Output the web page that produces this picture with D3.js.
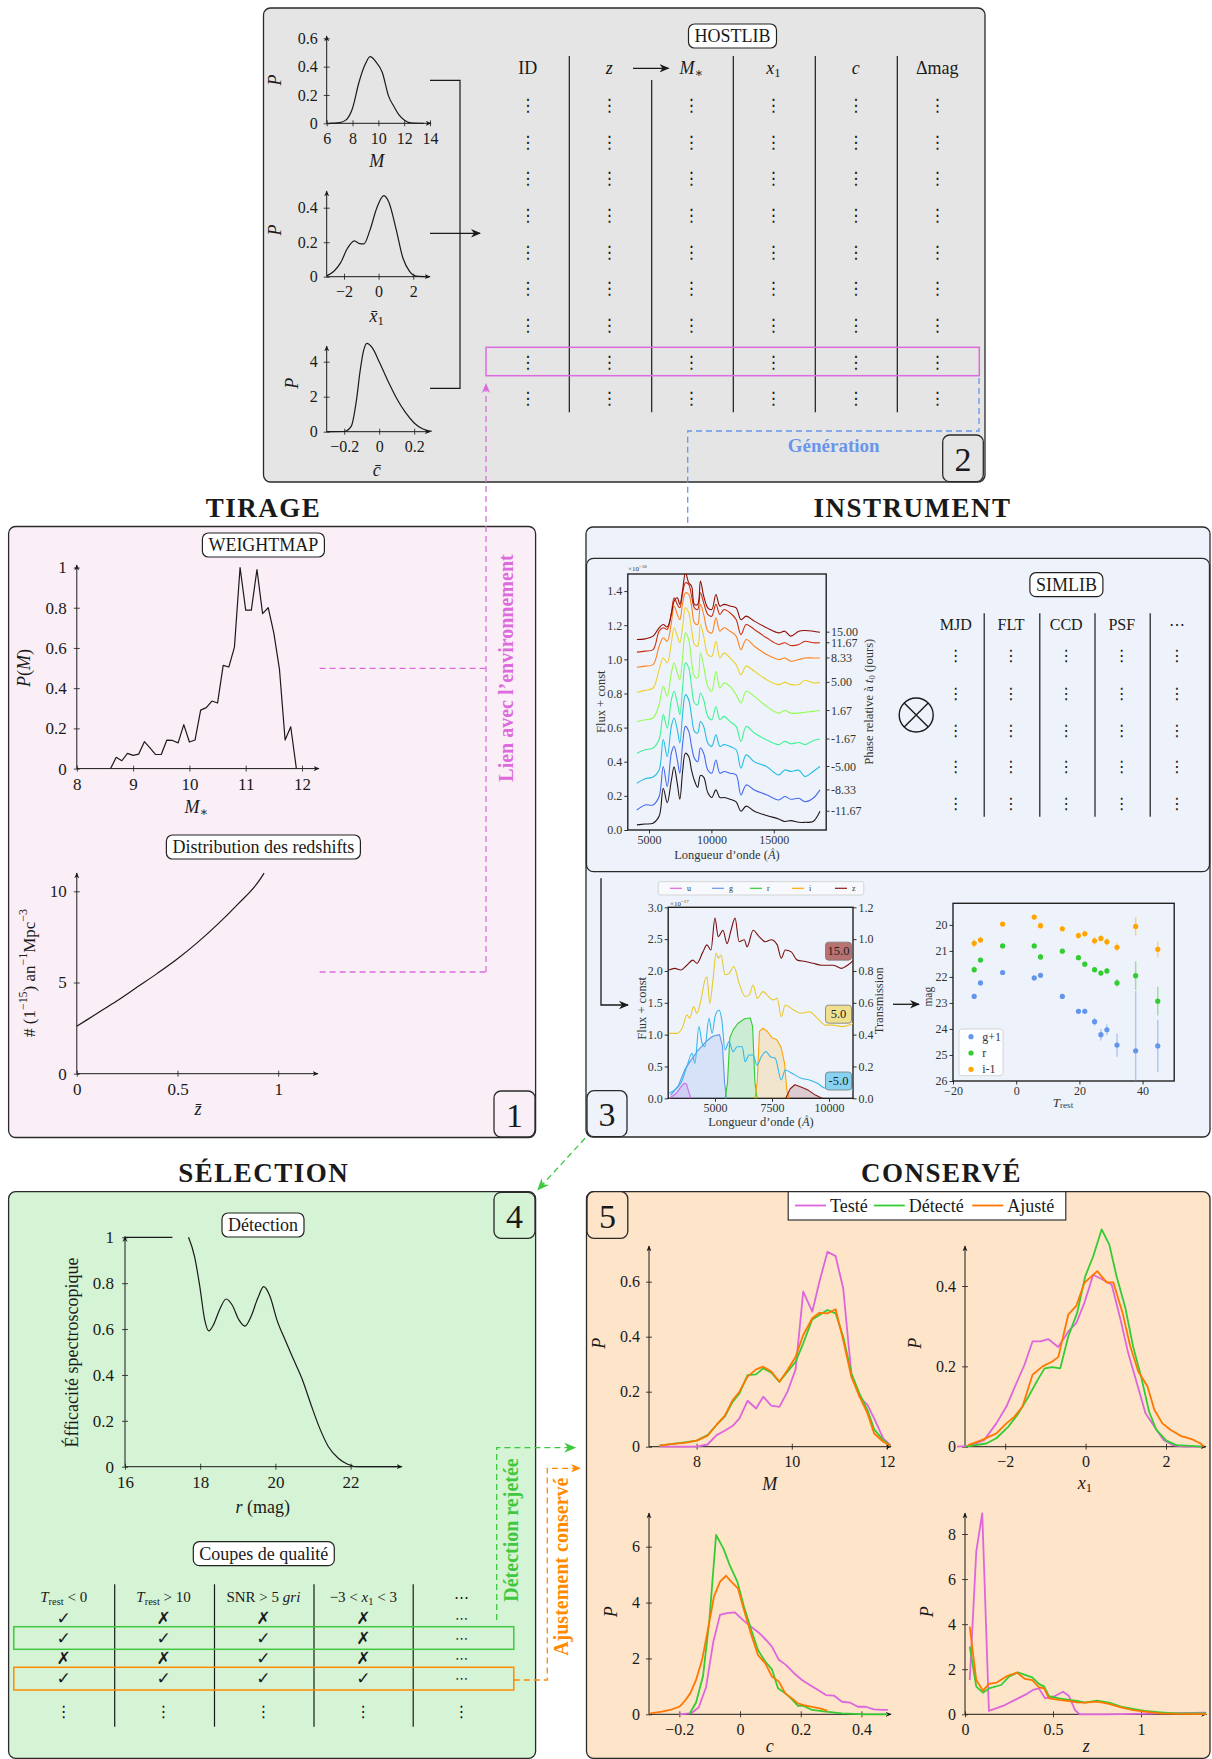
<!DOCTYPE html>
<html><head><meta charset="utf-8">
<script src="https://cdn.jsdelivr.net/npm/d3@7"></script>
<style>html,body{margin:0;padding:0;background:#fff;}</style>
</head><body>
<script>
// ================= DATA =================
// HOSTLIB priors
const hostM   = [6.2,7,7.5,8,8.5,9,9.36,9.8,10.3,10.8,11.2,11.6,12,12.5,13.5];
const hostMP  = [0,0.005,0.024,0.106,0.29,0.42,0.47,0.435,0.36,0.19,0.12,0.06,0.024,0.004,0];
const hostX1  = [-3,-2.6,-2.2,-1.8,-1.4,-1.1,-0.85,-0.5,-0.1,0.3,0.6,1.0,1.4,1.8,2.2,2.9];
const hostX1P = [0.005,0.03,0.08,0.165,0.208,0.192,0.19,0.27,0.4,0.47,0.43,0.28,0.11,0.03,0.003,0];
const hostC   = [-0.3,-0.2,-0.16,-0.13,-0.11,-0.09,-0.07,-0.04,0,0.05,0.1,0.15,0.2,0.25,0.3];
const hostCP  = [0,0.01,0.3,1.8,3.4,4.6,5.05,4.8,4.0,2.9,1.9,1.1,0.5,0.15,0.02];
const hostCols = [[["ID",""]],[["z","i"]],[["M","i"],["∗","sub"]],[["x","i"],["1","sub"]],[["c","i"]],[["Δmag",""]]];

// WEIGHTMAP
const wmM = [8.6,8.7,8.8,8.9,9.0,9.1,9.2,9.3,9.4,9.5,9.6,9.7,9.8,9.9,10.0,10.1,10.2,10.3,10.4,10.5,10.6,10.7,10.8,10.9,11.0,11.1,11.2,11.3,11.4,11.5,11.6,11.7,11.8,11.9];
const wmP = [0,0.056,0.039,0.076,0.066,0.072,0.134,0.103,0.07,0.07,0.142,0.14,0.128,0.219,0.132,0.142,0.291,0.303,0.336,0.326,0.513,0.505,0.604,1.0,0.788,0.788,0.99,0.771,0.8,0.674,0.493,0.142,0.208,0];

// Redshift rate
const zRateZ = [0,0.1,0.2,0.3,0.4,0.5,0.6,0.7,0.8,0.9,0.93];
const zRateV = [2.6,3.3,4.0,4.75,5.5,6.3,7.2,8.2,9.3,10.5,11.0];

// Spectral time series (Flux + const)
const specLam = [4030,4680,5325,5810,6140,6460,6790,7010,7270,7470,7700,7920,8180,8410,8640,8900,9120,9380,9710,10030,10360,10680,11010,11490,11980,12370,12790,13440,14420,15390,15880,16360,17010,17500,18150,18700];
const spec_m1167 = [0.03,0.035,0.04,0.08,0.245,0.16,0.29,0.37,0.27,0.18,0.35,0.45,0.43,0.35,0.29,0.25,0.32,0.31,0.22,0.19,0.235,0.19,0.19,0.18,0.165,0.11,0.14,0.11,0.085,0.065,0.05,0.055,0.045,0.045,0.05,0.11];
const spec_m833  = [0.117,0.147,0.147,0.196,0.372,0.255,0.45,0.49,0.41,0.333,0.51,0.607,0.578,0.49,0.42,0.40,0.48,0.45,0.352,0.333,0.41,0.333,0.343,0.333,0.323,0.206,0.264,0.235,0.206,0.176,0.196,0.18,0.186,0.166,0.186,0.235];
const spec_m500  = [0.274,0.30,0.31,0.352,0.53,0.43,0.607,0.656,0.587,0.51,0.685,0.793,0.763,0.666,0.578,0.568,0.636,0.607,0.51,0.49,0.558,0.49,0.5,0.49,0.47,0.362,0.44,0.40,0.372,0.323,0.352,0.343,0.35,0.313,0.343,0.372];
const spec_m167  = [0.45,0.47,0.48,0.53,0.676,0.597,0.763,0.813,0.744,0.676,0.842,0.979,0.95,0.842,0.744,0.734,0.803,0.763,0.666,0.646,0.724,0.646,0.666,0.636,0.607,0.519,0.607,0.568,0.528,0.5,0.519,0.505,0.513,0.5,0.523,0.533];
const spec_p167  = [0.636,0.646,0.656,0.734,0.842,0.783,0.92,0.979,0.92,0.881,1.018,1.155,1.116,0.989,0.9,0.89,1.038,0.96,0.842,0.813,0.93,0.832,0.862,0.842,0.793,0.744,0.813,0.783,0.724,0.685,0.70,0.685,0.685,0.69,0.695,0.70];
const spec_p500  = [0.807,0.818,0.832,0.94,1.008,0.979,1.097,1.185,1.136,1.097,1.194,1.302,1.273,1.175,1.087,1.077,1.204,1.136,1.028,1.018,1.106,1.008,1.038,1.008,0.969,0.91,0.96,0.93,0.881,0.852,0.865,0.852,0.852,0.877,0.862,0.865];
const spec_p833  = [0.954,0.96,0.969,1.077,1.126,1.106,1.214,1.312,1.263,1.233,1.331,1.39,1.38,1.312,1.214,1.204,1.322,1.263,1.165,1.155,1.243,1.165,1.185,1.165,1.136,1.057,1.116,1.077,1.028,0.999,1.008,0.989,0.999,1.008,1.008,1.008];
const spec_p1167 = [1.042,1.048,1.057,1.165,1.185,1.175,1.273,1.361,1.322,1.302,1.39,1.449,1.439,1.371,1.302,1.292,1.39,1.331,1.263,1.253,1.322,1.263,1.292,1.273,1.233,1.145,1.204,1.175,1.126,1.087,1.097,1.081,1.087,1.106,1.097,1.097];
const spec_p1500 = [1.116,1.12,1.136,1.185,1.204,1.19,1.263,1.341,1.361,1.322,1.41,1.508,1.449,1.429,1.322,1.322,1.459,1.371,1.302,1.292,1.38,1.312,1.322,1.312,1.302,1.233,1.253,1.224,1.185,1.155,1.165,1.136,1.165,1.169,1.165,1.159];
const specPhases = ["-11.67","-8.33","-5.00","-1.67","1.67","5.00","8.33","11.67","15.00"];

// SIMLIB
const simCols = ["MJD","FLT","CCD","PSF","⋯"];

// Filters (transmission)
const filtNames = ["u","g","r","i","z"];
const fU_l = [3000,3300,3500,3650,3750,3850,3950],            fU_t = [0,0.03,0.07,0.094,0.09,0.04,0];
const fG_l = [3050,3400,3680,3950,4250,4600,4900,5200,5330,5420,5500], fG_t = [0.02,0.08,0.18,0.24,0.3,0.355,0.39,0.40,0.33,0.1,0];
const fR_l = [5450,5550,5650,5800,6000,6300,6550,6650,6750,6850], fR_t = [0,0.1,0.38,0.43,0.47,0.5,0.505,0.45,0.1,0];
const fI_l = [6750,6850,6950,7100,7300,7500,7700,7900,8050,8150,8250], fI_t = [0,0.1,0.42,0.44,0.42,0.38,0.37,0.32,0.22,0.05,0];
const fZ_l = [8100,8300,8500,8800,9100,9400,9700],            fZ_t = [0,0.06,0.085,0.07,0.05,0.02,0];
// Spectra at 3 phases
const sM5_l = [2975,3503,3768,3996,4120,4296,4437,4560,4736,4877,5000,5176,5300,5440,5616,5792,5968,6197,6320,6496,6673,6849,7025,7236,7430,7641,7905,8081,8433,8785,9137,9490,9842,10106,10546,10898,11074];
const sM5_f = [0.08,0.236,0.5,0.707,0.55,1.126,0.864,0.81,1.256,1.02,1.28,1.387,1.23,0.76,0.89,0.733,0.81,0.81,0.576,0.68,0.68,0.52,0.65,0.733,0.654,0.63,0.288,0.445,0.38,0.314,0.288,0.236,0.157,0.21,0.18,0.157,0.13];
const sP5_l = [2975,3327,3591,3768,3891,4067,4208,4384,4560,4648,4771,4912,5053,5141,5264,5440,5616,5827,6056,6320,6496,6673,6849,7113,7289,7553,7729,7905,8081,8433,8785,9137,9490,9842,10194,10546,10898,11074];
const sP5_f = [1.02,1.02,1.126,1.31,1.26,1.44,1.335,1.54,1.86,1.91,1.49,1.86,2.28,2.2,2.25,1.94,1.96,2.07,1.81,1.6,1.62,1.78,1.57,1.675,1.62,1.545,1.57,1.28,1.466,1.39,1.335,1.36,1.256,1.15,1.15,1.126,1.15,1.18];
const sP15_l = [2975,3240,3503,3768,4032,4208,4472,4648,4824,5000,5141,5352,5528,5704,5880,6056,6285,6408,6673,6937,7201,7465,7729,7905,8081,8345,8609,8961,9313,9666,9930,10194,10546,10810,11074];
const sP15_f = [2.015,2.04,2.015,2.09,2.17,2.12,2.30,2.41,2.33,2.83,2.54,2.64,2.43,2.64,2.83,2.46,2.49,2.38,2.64,2.54,2.46,2.49,2.41,2.20,2.33,2.30,2.17,2.15,2.12,2.09,2.09,2.09,2.04,2.09,2.17];
const phaseBoxLabels = ["15.0","5.0","-5.0"];

// Light curve
const lcT    = [-13.3,-11.3,-4.3,5.7,7.7,14.6,19.7,21.7,24.8,26.8,28.7,31.9,37.8,44.8];
const lcG    = [22.75,22.23,21.83,22.04,21.94,22.75,23.32,23.32,23.72,24.22,24.03,24.62,24.84,24.65];
const lcGerr = [0.1,0.08,0.07,0.07,0.08,0.1,0.1,0.1,0.15,0.22,0.2,0.45,2.3,1.0];
const lcR    = [21.72,21.35,20.81,20.81,21.23,21.01,21.26,21.51,21.72,21.85,21.77,22.23,21.95,22.93];
const lcRerr = [0.12,0.1,0.06,0.07,0.12,0.07,0.08,0.1,0.1,0.1,0.1,0.15,0.55,0.55];
const lcI    = [20.71,20.58,19.97,19.70,20.03,20.15,20.41,20.34,20.61,20.52,20.65,20.86,20.06,20.94];
const lcIerr = [0.15,0.12,0.07,0.08,0.12,0.08,0.12,0.12,0.14,0.12,0.14,0.15,0.35,0.3];
const lcNames = ["g+1","r","i-1"];

// Detection efficiency
const effFlatR = [16,17.26], effFlat = [1,1];
const effR = [17.69,17.85,17.99,18.12,18.23,18.35,18.53,18.69,18.85,19.03,19.19,19.35,19.53,19.69,19.86,20.04,20.26,20.49,20.72,20.95,21.18,21.41,21.68,21.91,22.19,23.3];
const eff  = [1.0,0.916,0.785,0.64,0.592,0.618,0.69,0.731,0.705,0.64,0.613,0.654,0.734,0.785,0.741,0.64,0.552,0.465,0.378,0.269,0.167,0.087,0.036,0.012,0,0];

// Quality cuts table
const cutRows = [["✓","✗","✗","✗","⋯"],["✓","✓","✓","✗","⋯"],["✗","✗","✓","✗","⋯"],["✓","✓","✓","✓","⋯"]];

// Conservé distributions
const legNames = ["Testé","Détecté","Ajusté"];
const mBins = [7.22,7.5,7.75,8.0,8.23,8.42,8.59,8.76,8.90,9.07,9.25,9.40,9.57,9.74,9.91,10.08,10.24,10.43,10.58,10.75,10.92,11.08,11.25,11.42,11.59,11.73,11.92,12.07];
const testeM = [0,0,0,0,0.008,0.042,0.058,0.076,0.103,0.167,0.139,0.182,0.149,0.145,0.2,0.281,0.564,0.491,0.6,0.709,0.693,0.576,0.267,0.182,0.152,0.103,0.03,0.006];
const detM   = [0.004,0.01,0.016,0.022,0.042,0.079,0.109,0.164,0.194,0.26,0.263,0.285,0.269,0.236,0.273,0.309,0.376,0.463,0.479,0.497,0.485,0.4,0.267,0.194,0.133,0.063,0.024,0.004];
const ajuM   = [0.004,0.01,0.014,0.022,0.04,0.08,0.112,0.17,0.2,0.255,0.281,0.291,0.273,0.236,0.279,0.327,0.406,0.467,0.487,0.485,0.5,0.388,0.255,0.184,0.121,0.048,0.018,0.004];
const testeX1x = [-3.2,-2.87,-2.52,-2.22,-1.97,-1.72,-1.52,-1.32,-1.12,-0.93,-0.68,-0.43,-0.23,-0.03,0.19,0.42,0.65,0.87,1.06,1.31,1.49,1.71,1.94,2.16,2.46,2.9];
const testeX1  = [0,0.002,0.017,0.058,0.1,0.158,0.204,0.262,0.262,0.268,0.248,0.287,0.308,0.358,0.428,0.416,0.403,0.316,0.233,0.146,0.083,0.05,0.017,0.004,0,0];
const detX1x = [-3.0,-2.47,-2.22,-1.92,-1.67,-1.42,-1.17,-1.02,-0.83,-0.63,-0.43,-0.21,-0.01,0.19,0.40,0.59,0.77,0.99,1.18,1.38,1.58,1.76,2.01,2.26,2.9];
const detX1  = [0,0.008,0.021,0.05,0.083,0.125,0.17,0.195,0.198,0.195,0.275,0.333,0.424,0.474,0.541,0.503,0.424,0.345,0.25,0.175,0.087,0.042,0.015,0.004,0];
const ajuX1x = [-2.92,-2.57,-2.22,-1.97,-1.77,-1.57,-1.32,-1.07,-0.83,-0.68,-0.43,-0.23,-0.03,0.29,0.52,0.69,0.92,1.11,1.31,1.54,1.71,1.91,2.11,2.36,2.66,2.86,2.94];
const ajuX1  = [0.004,0.017,0.033,0.058,0.075,0.1,0.179,0.2,0.212,0.223,0.329,0.351,0.408,0.437,0.409,0.409,0.333,0.25,0.187,0.15,0.092,0.058,0.042,0.027,0.018,0.008,0];
const testeCx = [-0.2,-0.16,-0.136,-0.112,-0.088,-0.066,-0.043,-0.017,0.009,0.036,0.062,0.086,0.105,0.128,0.151,0.178,0.204,0.23,0.257,0.283,0.309,0.336,0.362,0.388,0.414,0.441,0.467,0.487];
const testeC  = [0,0.04,0.25,0.97,2.6,3.56,3.62,3.65,3.38,3.14,2.92,2.66,2.42,1.95,1.77,1.47,1.23,1.05,0.87,0.69,0.67,0.45,0.42,0.27,0.27,0.18,0.155,0.155];
const detCx = [-0.167,-0.145,-0.122,-0.101,-0.079,-0.055,-0.033,-0.009,0.013,0.037,0.059,0.083,0.105,0.125,0.149,0.168,0.191,0.21,0.237,0.283,0.336,0.414,0.487];
const detC  = [0,0.42,1.37,3.38,6.42,5.94,5.31,4.75,3.85,3.02,2.3,1.89,1.61,0.93,0.75,0.57,0.3,0.3,0.155,0.095,0.036,0,0];
const ajuCx = [-0.296,-0.257,-0.224,-0.2,-0.184,-0.164,-0.145,-0.125,-0.105,-0.086,-0.066,-0.046,-0.029,-0.007,0.016,0.039,0.059,0.083,0.105,0.128,0.149,0.171,0.191,0.21,0.237,0.263,0.287];
const ajuC  = [0.036,0.095,0.18,0.27,0.45,0.75,1.23,1.95,3.08,4.21,4.75,4.96,4.75,4.51,3.62,2.78,2.12,1.83,1.35,1.17,0.75,0.57,0.39,0.33,0.27,0.21,0.13];
const testeZx = [0.027,0.064,0.098,0.136,0.18,0.227,0.284,0.341,0.386,0.42,0.455,0.511,0.557,0.591,0.625,0.652,0.8,1.37];
const testeZ  = [1.52,7.22,8.92,0.15,0.27,0.41,0.64,0.86,1.08,1.15,0.71,0.81,1.0,0.81,0.19,0,0,0.07];
const detZx = [0.027,0.064,0.102,0.136,0.205,0.25,0.3,0.341,0.382,0.42,0.45,0.477,0.534,0.591,0.636,0.682,0.75,0.818,0.886,0.955,1.02,1.11,1.2,1.37];
const detZ  = [3.0,1.23,0.96,1.15,1.3,1.67,1.86,1.75,1.64,1.35,1.23,0.81,0.71,0.64,0.59,0.52,0.61,0.52,0.34,0.24,0.15,0.09,0.04,0.04];
const ajuZx = [0.027,0.064,0.102,0.136,0.18,0.239,0.295,0.341,0.382,0.42,0.45,0.477,0.534,0.591,0.636,0.682,0.75,0.818,0.886,0.955,1.02,1.11,1.2,1.37];
const ajuZ  = [3.89,1.52,1.05,1.35,1.41,1.7,1.85,1.57,1.52,1.2,1.15,0.71,0.64,0.59,0.53,0.52,0.56,0.46,0.31,0.19,0.12,0.04,0.015,0.01];

// ================= DRAWING =================
const svg = d3.select("body").append("svg").attr("width",1212).attr("height",1759).style("display","block");
const SERIF = '"Liberation Serif","DejaVu Serif",serif';
const SYM = '"DejaVu Sans",sans-serif';
const INK = "#1a1a1a";
const MAG = "#de6bde", BLUE = "#6a95ea", GRN = "#3fc83f", ORG = "#ff8a00";
const C_T = "#dd66dd", C_D = "#33cc33", C_A = "#ff7700";
const defs = svg.append("defs");
function mk(id,color,size){
  defs.append("marker").attr("id",id).attr("viewBox","0 0 10 10").attr("refX",9).attr("refY",5)
    .attr("markerWidth",size).attr("markerHeight",size).attr("markerUnits","userSpaceOnUse").attr("orient","auto")
    .append("path").attr("d","M0,0.8 L10,5 L0,9.2 L3,5 Z").attr("fill",color);
}
mk("aK",INK,10); mk("aKs",INK,6); mk("aM",MAG,10); mk("aB",BLUE,10); mk("aG",GRN,12); mk("aO",ORG,10);

const F = d => (d<0?"\u2212":"") + String(Math.abs(d));
function T(x,y,s,o={}){
  const t = svg.append("text").attr("x",x).attr("y",y).text(s)
    .attr("font-family",o.ff||SERIF).attr("font-size",o.fs||16).attr("fill",o.fill||INK)
    .attr("text-anchor",o.anchor||"middle").attr("dominant-baseline","central");
  if(o.bold) t.attr("font-weight","bold");
  if(o.italic) t.attr("font-style","italic");
  if(o.ls) t.attr("letter-spacing",o.ls);
  if(o.rot) t.attr("transform",`rotate(${o.rot},${x},${y})`);
  return t;
}
function rich(x,y,parts,o={}){
  const fs=o.fs||16;
  const t = svg.append("text").attr("x",x).attr("y",y).attr("font-family",o.ff||SERIF).attr("font-size",fs)
    .attr("fill",o.fill||INK).attr("text-anchor",o.anchor||"middle").attr("dominant-baseline","central");
  let shift=0;
  parts.forEach(p=>{
    const s=p[0], st=(p[1]||"").split(" ");
    const ts=t.append("tspan").text(s);
    let target=0;
    if(st.includes("sub")) target=fs*0.28;
    if(st.includes("sup")) target=-fs*0.38;
    if(target-shift!==0) ts.attr("dy",target-shift);
    shift=target;
    if(st.includes("sub")||st.includes("sup")) ts.attr("font-size",fs*0.7);
    if(st.includes("i")) ts.attr("font-style","italic");
  });
  if(o.bold) t.attr("font-weight","bold");
  if(o.rot) t.attr("transform",`rotate(${o.rot},${x},${y})`);
  return t;
}
function panel(x,y,w,h,fill,rx=7){
  return svg.append("rect").attr("x",x).attr("y",y).attr("width",w).attr("height",h).attr("rx",rx)
    .attr("fill",fill).attr("stroke","#2a2a2a").attr("stroke-width",1.3);
}
function nbox(x,y,w,h,n,fill){ panel(x,y,w,h,fill,7); T(x+w/2,y+h/2+1,n,{fs:34}); }
function lbox(cx,cy,s,fs=18){
  const g=svg.append("g");
  const t=g.append("text").attr("x",cx).attr("y",cy).attr("text-anchor","middle").attr("dominant-baseline","central")
    .attr("font-family",SERIF).attr("font-size",fs).attr("fill",INK).text(s);
  const w=t.node().getComputedTextLength();
  g.insert("rect","text").attr("x",cx-w/2-6).attr("y",cy-12).attr("width",w+12).attr("height",24).attr("rx",6)
    .attr("fill","#fff").attr("stroke","#222").attr("stroke-width",1.2);
}
function pgf(x,y,o){
  const g=svg.append("g");
  const bx=x.range()[0], by=y.range()[0], fs=o.fs||16;
  const ax=g.append("g").attr("transform",`translate(0,${by})`)
    .call(d3.axisBottom(x).tickValues(o.xt).tickFormat(F).tickSizeInner(3).tickSizeOuter(0).tickPadding(o.xpad||6));
  ax.select(".domain").remove();
  ax.selectAll(".tick line").attr("y1",-3).attr("stroke-width",0.8);
  ax.attr("font-family",SERIF).attr("font-size",fs).attr("color",INK);
  const ay=g.append("g").attr("transform",`translate(${bx},0)`)
    .call(d3.axisLeft(y).tickValues(o.yt).tickFormat(F).tickSizeInner(3).tickSizeOuter(0).tickPadding(o.ypad||6));
  ay.select(".domain").remove();
  ay.selectAll(".tick line").attr("x1",3).attr("stroke-width",0.8);
  ay.attr("font-family",SERIF).attr("font-size",fs).attr("color",INK);
  g.append("line").attr("x1",bx).attr("y1",by).attr("x2",o.xEnd).attr("y2",by).attr("stroke",INK).attr("stroke-width",1).attr("marker-end","url(#aKs)");
  g.append("line").attr("x1",bx).attr("y1",by).attr("x2",bx).attr("y2",o.yEnd).attr("stroke",INK).attr("stroke-width",1).attr("marker-end","url(#aKs)");
}
function mpl(x,y,o){
  const g=svg.append("g");
  const xr=x.range(), yr=y.range();
  const x0=Math.min(...xr), x1=Math.max(...xr), y0=Math.max(...yr), y1=Math.min(...yr), fs=o.fs||12;
  const ax=g.append("g").attr("transform",`translate(0,${y0})`)
    .call(d3.axisBottom(x).tickValues(o.xt).tickFormat(o.xf).tickSizeInner(3.5).tickSizeOuter(0).tickPadding(2));
  ax.select(".domain").remove();
  ax.attr("font-family",SERIF).attr("font-size",fs).attr("color","#333");
  const ay=g.append("g").attr("transform",`translate(${x0},0)`)
    .call(d3.axisLeft(y).tickValues(o.yt).tickFormat(o.yf).tickSizeInner(3.5).tickSizeOuter(0).tickPadding(2));
  ay.select(".domain").remove();
  ay.attr("font-family",SERIF).attr("font-size",fs).attr("color","#333");
  if(o.y2){
    const ar=g.append("g").attr("transform",`translate(${x1},0)`)
      .call(d3.axisRight(o.y2).tickValues(o.y2t).tickFormat(o.yf).tickSizeInner(3.5).tickSizeOuter(0).tickPadding(2));
    ar.select(".domain").remove();
    ar.attr("font-family",SERIF).attr("font-size",fs).attr("color","#333");
  }
  g.append("rect").attr("x",x0).attr("y",y1).attr("width",x1-x0).attr("height",y0-y1).attr("fill","none").attr("stroke","#222").attr("stroke-width",1.4);
  if(o.clip){ defs.append("clipPath").attr("id",o.clip).append("rect").attr("x",x0).attr("y",y1).attr("width",x1-x0).attr("height",y0-y1); }
}
function curve(x,y,xs,ys,o={}){
  const pts=xs.map((v,i)=>[v,ys[i]]);
  const p=svg.append("path").datum(pts).attr("d",d3.line().x(d=>x(d[0])).y(d=>y(d[1])).curve(o.curve||d3.curveLinear))
    .attr("fill","none").attr("stroke",o.color||INK).attr("stroke-width",o.w||1.2).attr("stroke-linejoin","round");
  if(o.clip) p.attr("clip-path",`url(#${o.clip})`);
  return p;
}
function area(x,y,xs,ys,color){
  const pts=xs.map((v,i)=>[v,ys[i]]);
  svg.append("path").datum(pts).attr("d",d3.area().x(d=>x(d[0])).y0(y(0)).y1(d=>y(d[1])))
    .attr("fill",color).attr("fill-opacity",0.18).attr("stroke","none");
  curve(x,y,xs,ys,{color:color,w:1.1});
}
function dashed(d,color,marker){
  const p=svg.append("path").attr("d",d).attr("fill","none").attr("stroke",color).attr("stroke-width",1.3).attr("stroke-dasharray","6,4");
  if(marker) p.attr("marker-end",`url(#${marker})`);
}
function vdots(x,y,fs=17){ T(x,y,"⋮",{ff:SYM,fs:fs}); }

// ---------------- TOP BOX (HOSTLIB) ----------------
panel(263.5,8,721.5,474,"#e5e5e5");
// prior M
const xP1=d3.scaleLinear().domain([6,14]).range([326.7,430]);
const yP1=d3.scaleLinear().domain([0,0.6]).range([123.3,38.3]);
pgf(xP1,yP1,{xt:[6,8,10,12,14],yt:[0,0.2,0.4,0.6],xEnd:431,yEnd:36,fs:16});
curve(xP1,yP1,hostM,hostMP,{curve:d3.curveMonotoneX});
rich(275,80,[["P","i"]],{fs:18,rot:-90});
rich(376.7,161,[["M","i"]],{fs:18});
// prior x1
const xP2=d3.scaleLinear().domain([-3,3]).range([326.7,430.5]);
const yP2=d3.scaleLinear().domain([0,0.4]).range([276.7,207.7]);
pgf(xP2,yP2,{xt:[-2,0,2],yt:[0,0.2,0.4],xEnd:430,yEnd:191,fs:16});
curve(xP2,yP2,hostX1,hostX1P,{curve:d3.curveMonotoneX});
rich(275,230,[["P","i"]],{fs:18,rot:-90});
rich(376.7,316,[["x̄","i"],["1","sub"]],{fs:18});
// prior c
const xP3=d3.scaleLinear().domain([-0.3,0.3]).range([326.7,431.7]);
const yP3=d3.scaleLinear().domain([0,4]).range([431.7,361.7]);
pgf(xP3,yP3,{xt:[-0.2,0,0.2],yt:[0,2,4],xEnd:430,yEnd:346,fs:16});
curve(xP3,yP3,hostC,hostCP,{curve:d3.curveMonotoneX});
rich(291.7,383.3,[["P","i"]],{fs:18,rot:-90});
rich(376.7,470,[["c̄","i"]],{fs:18});
// connectors
svg.append("path").attr("d","M430,80.3 H460 V388.3 H430").attr("fill","none").attr("stroke",INK).attr("stroke-width",1.2);
svg.append("line").attr("x1",430).attr("y1",233.3).attr("x2",480).attr("y2",233.3).attr("stroke",INK).attr("stroke-width",1.2).attr("marker-end","url(#aK)");
// HOSTLIB table
lbox(732.5,36,"HOSTLIB");
const hostX=[527.7,609.3,691.3,773.3,855.7,937.3];
hostCols.forEach((parts,i)=>rich(hostX[i],68.3,parts,{fs:18}));
svg.append("line").attr("x1",633).attr("y1",68.3).attr("x2",668.5).attr("y2",68.3).attr("stroke",INK).attr("stroke-width",1.2).attr("marker-end","url(#aK)");
[569.3,651.7,733.3,815.3,897.3].forEach((x,i)=>svg.append("line").attr("x1",x).attr("x2",x).attr("y1",i===1?80:56).attr("y2",412.3).attr("stroke",INK).attr("stroke-width",1.2));
d3.range(9).forEach(r=>hostX.forEach(x=>vdots(x,105+r*36.67)));
svg.append("rect").attr("x",486).attr("y",347.3).attr("width",493.3).attr("height",28.4).attr("fill","none").attr("stroke",MAG).attr("stroke-width",1.5);
dashed("M979,378 V431 H687.7 V556",BLUE,"aB");
T(833.7,445,"Génération",{fs:19,bold:true,fill:BLUE});
nbox(942.7,435,40.6,46.7,"2","#e5e5e5");

// ---------------- TIRAGE ----------------
T(263.4,508,"TIRAGE",{fs:27,bold:true,ls:1.5});
panel(8.6,526.5,527,611,"#fbeff7");
lbox(263.4,545,"WEIGHTMAP");
const xW=d3.scaleLinear().domain([8,12]).range([76.8,302]);
const yW=d3.scaleLinear().domain([0,1]).range([768.6,567.5]);
pgf(xW,yW,{xt:[8,9,10,11,12],yt:[0,0.2,0.4,0.6,0.8,1],xEnd:319,yEnd:565,fs:17,ypad:7});
curve(xW,yW,wmM,wmP,{w:1.2});
rich(24,668,[["P","i"],["("],["M","i"],[")"]],{fs:18,rot:-90});
rich(196.3,807,[["M","i"],["∗","sub"]],{fs:18});
lbox(263.4,847,"Distribution des redshifts");
const xZ=d3.scaleLinear().domain([0,1]).range([76.8,278.2]);
const yZ=d3.scaleLinear().domain([0,10]).range([1073.7,891.3]);
pgf(xZ,yZ,{xt:[0,0.5,1],yt:[0,5,10],xEnd:318,yEnd:873,fs:17,ypad:7});
curve(xZ,yZ,zRateZ,zRateV,{curve:d3.curveMonotoneX});
rich(29.3,973,[["# (1"],["−15","sup"],[") an"],["−1","sup"],["Mpc"],["−3","sup"]],{fs:17,rot:-90});
rich(198,1109,[["z̄","i"]],{fs:18});
dashed("M486,972 V384",MAG,"aM");
dashed("M319.6,668.3 H486",MAG);
dashed("M319.6,972 H486",MAG);
T(506,668,"Lien avec l’environnement",{fs:20,bold:true,fill:MAG,rot:-90});
nbox(494,1091,41,46,"1","#fbeff7");

// ---------------- INSTRUMENT ----------------
T(912.4,508,"INSTRUMENT",{fs:27,bold:true,ls:1.5});
panel(586,527,624,610,"#eef3fb");
panel(586.5,558.3,623,313.4,"#eef3fb");
// spectra
const xS=d3.scaleLinear().domain([3300,19200]).range([627.8,826.2]);
const yS=d3.scaleLinear().domain([0,1.5]).range([830,574]);
mpl(xS,yS,{xt:[5000,10000,15000],xf:d=>d,yt:[0,0.2,0.4,0.6,0.8,1.0,1.2,1.4],yf:d3.format(".1f"),fs:12,clip:"clipS"});
const specAll=[spec_m1167,spec_m833,spec_m500,spec_m167,spec_p167,spec_p500,spec_p833,spec_p1167,spec_p1500];
specAll.forEach((arr,i)=>curve(xS,yS,specLam,arr,{color:d3.interpolateTurbo(i/8),w:1.1,curve:d3.curveCatmullRom,clip:"clipS"}));
specAll.forEach((arr,i)=>{
  const yy=yS(arr[arr.length-1]);
  svg.append("line").attr("x1",826.2).attr("x2",829.5).attr("y1",yy).attr("y2",yy).attr("stroke","#333");
  T(831,yy,specPhases[i],{fs:12,anchor:"start",fill:"#333"});
});
rich(628,569,[["×10"],["−18","sup"]],{fs:7,anchor:"start",fill:"#333"});
T(601,701.7,"Flux + const",{fs:12.5,rot:-90,fill:"#333"});
rich(727,855,[["Longueur d’onde ("],["Å","i"],[")"]],{fs:12.5,fill:"#333"});
rich(869,701.7,[["Phase relative à "],["t","i"],["0","sub"],[" (jours)"]],{fs:12.5,rot:-90,fill:"#333"});
// otimes
svg.append("circle").attr("cx",916.2).attr("cy",715).attr("r",17).attr("fill","none").attr("stroke",INK).attr("stroke-width",1.4);
svg.append("path").attr("d",`M${916.2-12},${715-12} L${916.2+12},${715+12} M${916.2-12},${715+12} L${916.2+12},${715-12}`).attr("stroke",INK).attr("stroke-width",1.4);
// SIMLIB
lbox(1066.4,584.7,"SIMLIB");
const simX=[955.8,1011,1066.2,1121.8,1177];
simCols.forEach((s,i)=>T(simX[i],624,s,{fs:16}));
[984.2,1039.8,1095,1150.2].forEach(x=>svg.append("line").attr("x1",x).attr("x2",x).attr("y1",613.3).attr("y2",816.7).attr("stroke",INK).attr("stroke-width",1.2));
[655,693.3,730,766.7,803.3].forEach(y=>simX.forEach(x=>vdots(x,y,16)));
// lower: arrow
svg.append("path").attr("d","M601,878.3 V1005 H628").attr("fill","none").attr("stroke",INK).attr("stroke-width",1.3).attr("marker-end","url(#aK)");
// legend of filters
svg.append("rect").attr("x",658.2).attr("y",881.7).attr("width",205.6).attr("height",13.3).attr("rx",2).attr("fill","#f7f9fd").attr("stroke","#ccc").attr("stroke-width",0.8);
const filtCols=[C_T,"#6495ed","#32cd32","#ffa500","#8b1a1a"];
const legFX=[670,712,750,792,835];
filtNames.forEach((n,i)=>{
  svg.append("line").attr("x1",legFX[i]).attr("x2",legFX[i]+12).attr("y1",888.3).attr("y2",888.3).attr("stroke",filtCols[i]).attr("stroke-width",1.2);
  T(legFX[i]+17,888.3,n,{fs:8,anchor:"start",fill:"#333"});
});
const xF=d3.scaleLinear().domain([2950,11050]).range([668.2,853]);
const yF=d3.scaleLinear().domain([0,3]).range([1098.3,907.3]);
const yTr=d3.scaleLinear().domain([0,1.2]).range([1098.3,907.3]);
mpl(xF,yF,{xt:[5000,7500,10000],xf:d=>d,yt:[0,0.5,1,1.5,2,2.5,3],yf:d3.format(".1f"),y2:yTr,y2t:[0,0.2,0.4,0.6,0.8,1.0,1.2],fs:12,clip:"clipF"});
area(xF,yTr,fU_l,fU_t,filtCols[0]);
area(xF,yTr,fG_l,fG_t,filtCols[1]);
area(xF,yTr,fR_l,fR_t,filtCols[2]);
area(xF,yTr,fI_l,fI_t,filtCols[3]);
area(xF,yTr,fZ_l,fZ_t,filtCols[4]);
const phCols=["#7a1010","#e8c830","#35b8ea"];
const phFill=["#b87272","#eee08e","#86d2f0"];
[[sP15_l,sP15_f],[sP5_l,sP5_f],[sM5_l,sM5_f]].forEach((s,i)=>curve(xF,yF,s[0],s[1],{color:phCols[i],w:1.1,curve:d3.curveMonotoneX,clip:"clipF"}));
[[sP15_l,sP15_f],[sP5_l,sP5_f],[sM5_l,sM5_f]].forEach((s,i)=>{
  const yy=yF(s[1][s[1].length-1])-9, cx=838.5;
  svg.append("rect").attr("x",cx-13).attr("y",yy-9).attr("width",26).attr("height",18).attr("rx",3).attr("fill",phFill[i]).attr("stroke","#777").attr("stroke-width",0.8);
  T(cx,yy,phaseBoxLabels[i],{fs:12.5,fill:"#222"});
});
rich(670,904,[["×10"],["−17","sup"]],{fs:7,anchor:"start",fill:"#333"});
T(642.2,1008.3,"Flux + const",{fs:12.5,rot:-90,fill:"#333"});
T(879,1000.8,"Transmission",{fs:12.5,rot:-90,fill:"#333"});
rich(761,1121.7,[["Longueur d’onde ("],["Å","i"],[")"]],{fs:12.5,fill:"#333"});
svg.append("line").attr("x1",893).attr("y1",1004.3).attr("x2",919).attr("y2",1004.3).attr("stroke",INK).attr("stroke-width",1.3).attr("marker-end","url(#aK)");
// light curve
const xL=d3.scaleLinear().domain([-20,50]).range([953,1174.2]);
const yL=d3.scaleLinear().domain([19.17,26]).range([903.3,1081]);
mpl(xL,yL,{xt:[-20,0,20,40],xf:F,yt:[20,21,22,23,24,25,26],yf:d=>d,fs:12,clip:"clipL"});
const lcCols=["#6495ed","#32cd32","#ffa500"];
[[lcG,lcGerr],[lcR,lcRerr],[lcI,lcIerr]].forEach((s,k)=>{
  const g=svg.append("g").attr("clip-path","url(#clipL)");
  lcT.forEach((t,i)=>{
    g.append("line").attr("x1",xL(t)).attr("x2",xL(t)).attr("y1",yL(s[0][i]-s[1][i])).attr("y2",yL(s[0][i]+s[1][i])).attr("stroke",lcCols[k]).attr("stroke-opacity",0.45).attr("stroke-width",1.5);
    g.append("circle").attr("cx",xL(t)).attr("cy",yL(s[0][i])).attr("r",2.6).attr("fill",lcCols[k]);
  });
});
svg.append("rect").attr("x",959).attr("y",1029).attr("width",44).attr("height",46.7).attr("rx",3).attr("fill","#fff").attr("fill-opacity",0.85).attr("stroke","#ccc").attr("stroke-width",0.8);
lcNames.forEach((n,k)=>{
  const yy=1036.7+k*16.3;
  svg.append("circle").attr("cx",971).attr("cy",yy).attr("r",2.6).attr("fill",lcCols[k]);
  T(982.2,yy,n,{fs:12,anchor:"start",fill:"#333"});
});
T(928.5,996.7,"mag",{fs:11.5,rot:-90,fill:"#333"});
rich(1063,1101.7,[["T","i"],["rest","sub"]],{fs:13,fill:"#333"});
nbox(587,1090.7,40,46,"3","#eef3fb");
dashed("M585,1138.3 L538,1189.5",GRN,"aG");

// ---------------- SÉLECTION ----------------
T(263.7,1173,"SÉLECTION",{fs:27,bold:true,ls:1.5});
panel(8.6,1191.7,527,566.6,"#d5f3d5");
nbox(494,1192.3,41,46,"4","#d5f3d5");
lbox(263,1225,"Détection");
const xR=d3.scaleLinear().domain([16,22]).range([125,350.6]);
const yE=d3.scaleLinear().domain([0,1]).range([1466.7,1237.3]);
pgf(xR,yE,{xt:[16,18,20,22],yt:[0,0.2,0.4,0.6,0.8,1],xEnd:402,yEnd:1236.5,fs:17,ypad:8});
curve(xR,yE,effFlatR,effFlat,{w:1.2});
curve(xR,yE,effR,eff,{curve:d3.curveMonotoneX,w:1.2});
T(72.3,1352.5,"Éfficacité spectroscopique",{fs:18,rot:-90});
rich(262.7,1507,[["r","i"],[" (mag)"]],{fs:18});
lbox(263.8,1553.7,"Coupes de qualité");
const cutX=[63.7,163.6,263.4,363.3,461.4];
const cutHead=[[["T","i"],["rest","sub"],[" < 0"]],[["T","i"],["rest","sub"],[" > 10"]],[["SNR > 5 "],["gri","i"]],[["−3 < "],["x","i"],["1","sub"],[" < 3"]],[["⋯"]]];
cutHead.forEach((p,i)=>rich(cutX[i],1596.7,p,{fs:15}));
[114.7,214.5,314,413.2].forEach(x=>svg.append("line").attr("x1",x).attr("x2",x).attr("y1",1584.3).attr("y2",1726.7).attr("stroke",INK).attr("stroke-width",1.2));
const rowY=[1618.3,1638.3,1658.3,1678.3];
cutRows.forEach((row,r)=>row.forEach((s,c)=>T(cutX[c],rowY[r],s,{ff:SYM,fs:s==="⋯"?13:17,bold:s!=="⋯"})));
cutX.forEach(x=>vdots(x,1711.7,16));
svg.append("rect").attr("x",13.8).attr("y",1626.7).attr("width",500).attr("height",22.6).attr("fill","none").attr("stroke",GRN).attr("stroke-width",1.5);
svg.append("rect").attr("x",13.8).attr("y",1667.3).attr("width",500).attr("height",22.7).attr("fill","none").attr("stroke",ORG).attr("stroke-width",1.5);
dashed("M496.7,1620 V1447.7 H575",GRN,"aG");
T(510.7,1530,"Détection rejetée",{fs:20,bold:true,fill:GRN,rot:-90});
dashed("M513.8,1680 H547.3 V1468.3 H580",ORG,"aO");
T(560.7,1566.7,"Ajustement conservé",{fs:20,bold:true,fill:ORG,rot:-90});

// ---------------- CONSERVÉ ----------------
T(941.5,1173,"CONSERVÉ",{fs:27,bold:true,ls:1.5});
panel(586.5,1191.7,623.5,566.6,"#fee4c9");
nbox(587,1191.7,40.8,46.6,"5","#fee4c9");
svg.append("rect").attr("x",788.2).attr("y",1191.7).attr("width",277.6).attr("height",28.3).attr("fill","#fff").attr("stroke","#222").attr("stroke-width",1.1);
const legCX=[795,873.8,972.2], legCols=[C_T,C_D,C_A];
legNames.forEach((n,i)=>{
  svg.append("line").attr("x1",legCX[i]).attr("x2",legCX[i]+31).attr("y1",1205.5).attr("y2",1205.5).attr("stroke",legCols[i]).attr("stroke-width",1.8);
  T(legCX[i]+35,1205.5,n,{fs:18,anchor:"start"});
});
function threeCurves(x,y,sets){ sets.forEach((s,i)=>curve(x,y,s[0],s[1],{color:legCols[i],w:1.8})); }
const xA=d3.scaleLinear().domain([7,12]).range([649,887]);
const yA=d3.scaleLinear().domain([0,0.6]).range([1446.7,1281.7]);
pgf(xA,yA,{xt:[8,10,12],yt:[0,0.2,0.4,0.6],xEnd:891,yEnd:1246,fs:16});
threeCurves(xA,yA,[[mBins,testeM],[mBins,detM],[mBins,ajuM]]);
rich(599,1343.3,[["P","i"]],{fs:18,rot:-90});
rich(769.8,1484,[["M","i"]],{fs:18});
const xB=d3.scaleLinear().domain([-3,3]).range([965,1206.2]);
const yB=d3.scaleLinear().domain([0,0.4]).range([1446.7,1286]);
pgf(xB,yB,{xt:[-2,0,2],yt:[0,0.2,0.4],xEnd:1206,yEnd:1246,fs:16});
threeCurves(xB,yB,[[testeX1x,testeX1],[detX1x,detX1],[ajuX1x,ajuX1]]);
rich(915,1343.3,[["P","i"]],{fs:18,rot:-90});
rich(1085,1483,[["x","i"],["1","sub"]],{fs:18});
const xC=d3.scaleLinear().domain([-0.3,0.5]).range([649,891.8]);
const yC=d3.scaleLinear().domain([0,6]).range([1714.3,1546.7]);
pgf(xC,yC,{xt:[-0.2,0,0.2,0.4],yt:[0,2,4,6],xEnd:891,yEnd:1513,fs:16});
threeCurves(xC,yC,[[testeCx,testeC],[detCx,detC],[ajuCx,ajuC]]);
rich(611,1611.7,[["P","i"]],{fs:18,rot:-90});
rich(769.8,1746,[["c","i"]],{fs:18});
const xD=d3.scaleLinear().domain([0,1]).range([965,1141]);
const yD=d3.scaleLinear().domain([0,8]).range([1714.3,1534]);
pgf(xD,yD,{xt:[0,0.5,1],yt:[0,2,4,6,8],xEnd:1206.5,yEnd:1513,fs:16});
threeCurves(xD,yD,[[testeZx,testeZ],[detZx,detZ],[ajuZx,ajuZ]]);
rich(927,1611.7,[["P","i"]],{fs:18,rot:-90});
rich(1086.2,1746,[["z","i"]],{fs:18});
</script>
</body></html>
